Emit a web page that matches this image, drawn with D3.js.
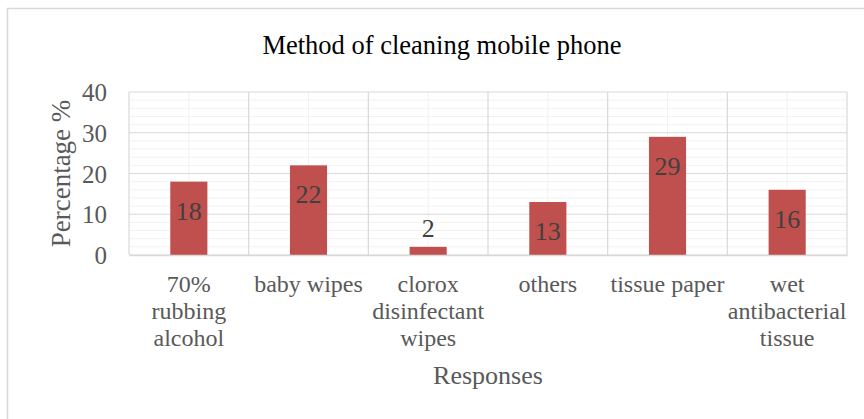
<!DOCTYPE html>
<html>
<head>
<meta charset="utf-8">
<script src="https://cdn.jsdelivr.net/npm/d3@7"></script>
<style>
  body { margin: 0; background: #fff; }
  svg { display: block; font-family: 'Liberation Serif', 'Times New Roman', serif; }
</style>
</head>
<body>
<svg id="chart" width="864" height="419"></svg>
<script>
const categories = ['70% rubbing alcohol', 'baby wipes', 'clorox disinfectant wipes', 'others', 'tissue paper', 'wet antibacterial tissue']
const percentages = [18, 22, 2, 13, 29, 16]
const majorTicks = [0, 10, 20, 30, 40]
const minorTicks = d3.range(0, 41, 2)

const width = 864
const height = 419
const plot = { left: 129, right: 847, top: 92, bottom: 255 }

const svg = d3.select('#chart')

// chart area border (only left and top show in the frame)
svg.append('rect')
  .attr('x', 7.5).attr('y', 8.5)
  .attr('width', width + 20).attr('height', height + 20)
  .attr('fill', '#fff')
  .attr('stroke', '#d9d9d9')
  .attr('stroke-width', 1.5)

const xScale = d3.scaleBand()
  .domain(categories)
  .range([plot.left, plot.right])

const yScale = d3.scaleLinear()
  .domain([0, 40])
  .range([plot.bottom, plot.top])

const grid = svg.append('g')

// minor gridlines
grid.selectAll('.minor-h')
  .data(minorTicks.filter(d => d % 10 !== 0))
  .join('line')
  .attr('x1', plot.left).attr('x2', plot.right)
  .attr('y1', d => yScale(d)).attr('y2', d => yScale(d))
  .attr('stroke', '#f2f2f2')
  .attr('stroke-width', 1)

grid.selectAll('.minor-v')
  .data(categories)
  .join('line')
  .attr('x1', d => xScale(d) + xScale.bandwidth() / 2)
  .attr('x2', d => xScale(d) + xScale.bandwidth() / 2)
  .attr('y1', plot.top).attr('y2', plot.bottom)
  .attr('stroke', '#f2f2f2')
  .attr('stroke-width', 1)

// major gridlines
grid.selectAll('.major-h')
  .data(majorTicks)
  .join('line')
  .attr('x1', plot.left).attr('x2', plot.right)
  .attr('y1', d => yScale(d)).attr('y2', d => yScale(d))
  .attr('stroke', '#d9d9d9')
  .attr('stroke-width', 1.2)

grid.selectAll('.major-v')
  .data(categories.map(c => xScale(c)).concat([plot.right]))
  .join('line')
  .attr('x1', d => d).attr('x2', d => d)
  .attr('y1', plot.top).attr('y2', plot.bottom)
  .attr('stroke', '#d9d9d9')
  .attr('stroke-width', 1.2)

// bars
const barW = xScale.bandwidth() * 0.31
svg.append('g').selectAll('rect')
  .data(percentages)
  .join('rect')
  .attr('x', (d, i) => xScale(categories[i]) + (xScale.bandwidth() - barW) / 2)
  .attr('y', d => yScale(d))
  .attr('width', barW)
  .attr('height', d => yScale(0) - yScale(d))
  .attr('fill', '#c0504d')

// data labels: inside end, or above when the bar is too short
svg.append('g').selectAll('text')
  .data(percentages)
  .join('text')
  .attr('x', (d, i) => xScale(categories[i]) + xScale.bandwidth() / 2)
  .attr('y', d => (yScale(0) - yScale(d)) > 40 ? yScale(d) + 38 : yScale(d) - 10)
  .attr('text-anchor', 'middle')
  .style('font-size', '26px')
  .style('fill', '#404040')
  .text(d => d)

// y axis
const yAxis = d3.axisLeft(yScale)
  .tickValues(majorTicks)
  .tickSize(0)
  .tickPadding(22)

svg.append('g')
  .attr('transform', `translate(${plot.left},0)`)
  .call(yAxis)
  .call(g => {
    g.select('.domain').remove()
    g.selectAll('.tick text')
      .attr('dy', '0.34em')
      .style('font-size', '25px')
      .style('font-family', "'Liberation Serif', serif")
      .style('fill', '#595959')
  })

// x axis with wrapped labels
function wrap (text, w) {
  text.each(function () {
    const t = d3.select(this)
    const words = t.text().split(/\s+/)
    t.text(null)
    let line = []
    let lineNo = 0
    let tspan = t.append('tspan').attr('x', 0).attr('dy', 0)
    words.forEach(word => {
      line.push(word)
      tspan.text(line.join(' '))
      if (tspan.node().getComputedTextLength() > w && line.length > 1) {
        line.pop()
        tspan.text(line.join(' '))
        line = [word]
        lineNo++
        tspan = t.append('tspan').attr('x', 0).attr('dy', '27px').text(word)
      }
    })
  })
}

const xAxis = d3.axisBottom(xScale).tickSize(0).tickPadding(0)

svg.append('g')
  .attr('transform', `translate(0,${plot.bottom})`)
  .call(xAxis)
  .call(g => {
    g.select('.domain')
      .attr('stroke', '#d9d9d9')
      .attr('stroke-width', 1.5)
    g.selectAll('.tick text')
      .attr('y', 37)
      .attr('dy', 0)
      .style('font-size', '24px')
      .style('font-family', "'Liberation Serif', serif")
      .style('fill', '#595959')
      .call(wrap, xScale.bandwidth() - 4)
  })

// titles
svg.append('text')
  .attr('x', (262 + 622) / 2)
  .attr('y', 54)
  .attr('text-anchor', 'middle')
  .style('font-size', '26.5px')
  .style('fill', '#000')
  .text('Method of cleaning mobile phone')

svg.append('text')
  .attr('transform', `translate(70,${(plot.top + plot.bottom) / 2}) rotate(-90)`)
  .attr('text-anchor', 'middle')
  .style('font-size', '27px')
  .style('fill', '#595959')
  .text('Percentage %')

svg.append('text')
  .attr('x', (plot.left + plot.right) / 2)
  .attr('y', 384)
  .attr('text-anchor', 'middle')
  .style('font-size', '26px')
  .style('fill', '#595959')
  .text('Responses')
</script>
</body>
</html>
